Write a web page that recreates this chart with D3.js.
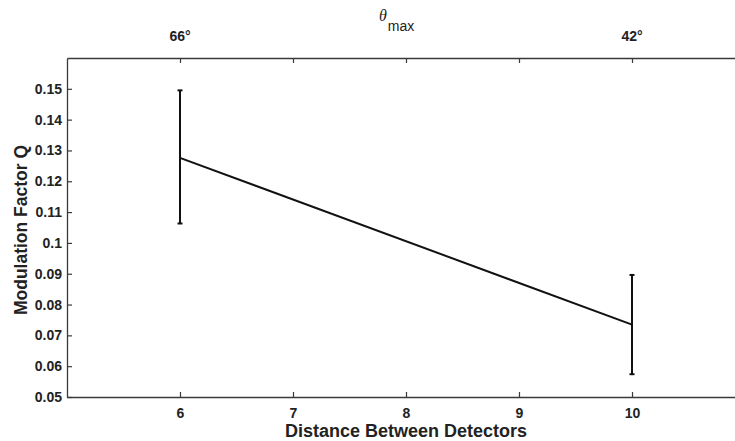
<!DOCTYPE html>
<html>
<head>
<meta charset="utf-8">
<script src="https://cdn.jsdelivr.net/npm/d3@7"></script>
<style>
  body { margin: 0; background: #fff; }
  svg { display: block; font-family: "Liberation Sans", Arial, sans-serif; }
</style>
</head>
<body>
<div id="chart"></div>
<script>
// data
var distances = [6, 10];
var qValues = [0.1276, 0.0735];
var qLow = [0.1063, 0.0574];
var qHigh = [0.1495, 0.0896];
var thetaLabels = ["66°", "42°"];
var xTicks = [6, 7, 8, 9, 10];
var yTicks = [0.05, 0.06, 0.07, 0.08, 0.09, 0.1, 0.11, 0.12, 0.13, 0.14, 0.15];

function drawChart() {
  var W = 735, H = 441;
  var mLeft = 67, mRight = 745, mTop = 58, mBottom = 397;

  var svg = d3.select("#chart").append("svg").attr("width", W).attr("height", H);

  var x = d3.scaleLinear().domain([5, 11]).range([mLeft, mRight]);
  var y = d3.scaleLinear().domain([0.05, 0.16]).range([mBottom, mTop]);

  var axisColor = "#3a3a3a";

  // bottom axis, ticks pointing in
  var gx = svg.append("g").attr("transform", "translate(0," + mBottom + ")")
    .call(d3.axisBottom(x).tickValues(xTicks).tickSizeInner(-5).tickSizeOuter(0).tickPadding(11).tickFormat(d3.format("d")));
  // top axis
  var gt = svg.append("g").attr("transform", "translate(0," + mTop + ")")
    .call(d3.axisTop(x).tickValues(xTicks).tickSizeInner(-5).tickSizeOuter(0).tickFormat(""));
  // left axis
  var gy = svg.append("g").attr("transform", "translate(" + mLeft + ",0)")
    .call(d3.axisLeft(y).tickValues(yTicks).tickSizeInner(-5).tickSizeOuter(0).tickPadding(5)
      .tickFormat(function(d) { return d3.format("~g")(+d.toFixed(2)); }));

  [gx, gt, gy].forEach(function(g) {
    g.attr("font-family", null).attr("font-size", 14).attr("font-weight", "bold");
    g.select(".domain").attr("stroke", axisColor).attr("stroke-width", 1.3);
    g.selectAll(".tick line").attr("stroke", axisColor).attr("stroke-width", 1.2);
    g.selectAll(".tick text").attr("fill", "#222");
  });

  // theta labels on top
  svg.selectAll(".theta").data(distances).enter().append("text")
    .attr("x", function(d) { return x(d); })
    .attr("y", 41)
    .attr("text-anchor", "middle")
    .attr("font-size", 14).attr("font-weight", "bold").attr("fill", "#222")
    .text(function(d, i) { return thetaLabels[i]; });

  var th = svg.append("text").attr("x", 379).attr("y", 21).attr("font-size", 16).attr("fill", "#222");
  th.append("tspan").attr("font-family", "'Liberation Serif', serif").attr("font-style", "italic").text("θ");
  th.append("tspan").attr("dy", 10).attr("dx", 1).attr("font-size", 14).text("max");

  // axis titles
  svg.append("text").attr("x", (mLeft + mRight) / 2).attr("y", 437).attr("text-anchor", "middle")
    .attr("font-size", 18).attr("font-weight", "bold").attr("fill", "#222")
    .text("Distance Between Detectors");
  svg.append("text").attr("transform", "translate(27," + 230 + ") rotate(-90)")
    .attr("text-anchor", "middle")
    .attr("font-size", 17.5).attr("font-weight", "bold").attr("fill", "#222")
    .text("Modulation Factor Q");

  // error bars
  var pts = distances.map(function(d, i) { return { x: d, q: qValues[i], lo: qLow[i], hi: qHigh[i] }; });
  var eb = svg.selectAll(".err").data(pts).enter().append("g");
  eb.append("line")
    .attr("x1", function(d) { return x(d.x); }).attr("x2", function(d) { return x(d.x); })
    .attr("y1", function(d) { return y(d.lo); }).attr("y2", function(d) { return y(d.hi); })
    .attr("stroke", "#111").attr("stroke-width", 2);
  ["lo", "hi"].forEach(function(k) {
    eb.append("line")
      .attr("x1", function(d) { return x(d.x) - 2.5; }).attr("x2", function(d) { return x(d.x) + 2.5; })
      .attr("y1", function(d) { return y(d[k]); }).attr("y2", function(d) { return y(d[k]); })
      .attr("stroke", "#111").attr("stroke-width", 2);
  });

  // main line
  svg.append("path").datum(pts)
    .attr("fill", "none").attr("stroke", "#111").attr("stroke-width", 2)
    .attr("d", d3.line().x(function(d) { return x(d.x); }).y(function(d) { return y(d.q); }));
}

drawChart();
</script>
</body>
</html>
